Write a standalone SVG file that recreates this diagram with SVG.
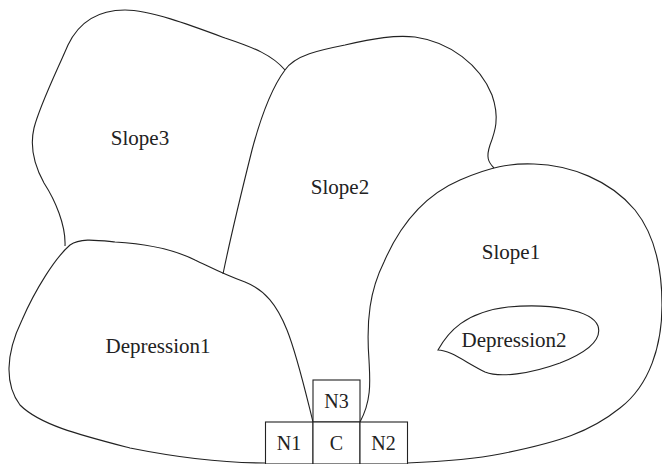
<svg xmlns="http://www.w3.org/2000/svg" width="662" height="464" viewBox="0 0 662 464">
<style>
.r{fill:none;stroke:#222;stroke-width:1.1}
.b{fill:#fff;stroke:#222;stroke-width:1.1}
.t{font-size:21px;fill:#222;text-anchor:middle}
.s{font-size:20px;fill:#222;text-anchor:middle}
</style>
<rect width="662" height="464" fill="#fff"/>
<g font-family="Liberation Serif, Times New Roman, Tinos, DejaVu Serif, serif">
<g id="slope3">
<path class="r" d="M65,246 C66,225 55,200 44,183 C34,165 30,145 34,128 C40,105 55,75 68,45 C80,20 100,10 125,10 C150,10 190,25 225,38 C255,48 272,55 285,70"/>
<text class="t" x="140" y="145">Slope3</text>
</g>
<g id="slope2">
<path class="r" d="M285,70 C270,90 260,120 252,150 C242,190 232,230 223,274"/>
<path class="r" d="M285,70 C295,55 320,50 345,45 C375,38 395,35 415,37 C450,42 480,65 492,95 C500,118 495,132 490,145 C486,157 488,162 494,168"/>
<text class="t" x="340" y="194">Slope2</text>
</g>
<g id="slope1">
<path class="r" d="M360,422 C372,400 370,380 369,360 C366,320 370,290 384,262 C400,225 425,195 460,180 C490,167 510,163 534,164 C570,165 610,180 635,210 C655,235 662,270 662,305 C662,345 650,385 620,408 C590,432 560,442 500,454 C470,460 430,462 407,463"/>
<text class="t" x="511" y="259">Slope1</text>
</g>
<g id="depression1">
<path class="r" d="M313,422 C305,390 297,355 287,330 C277,305 265,290 245,282 C225,275 212,268 195,260 C175,250 150,244 115,242 C95,240 80,238 70,245 C55,258 35,290 22,320 C5,355 5,385 20,405 C40,425 80,435 130,448 C180,458 230,463 265,463"/>
<text class="t" x="158" y="353">Depression1</text>
</g>
<g id="depression2">
<path class="r" d="M438,350 C448,332 465,312 508,307 C550,303 592,310 598,326 C603,342 580,355 560,363 C530,374 500,378 485,372 C465,362 450,350 438,350 Z"/>
<text class="t" x="514" y="347">Depression2</text>
</g>
<g id="N3">
<rect class="b" x="313" y="380" width="47" height="42"/>
<text class="s" x="336.5" y="408">N3</text>
</g>
<g id="N1">
<rect class="b" x="265.5" y="422" width="47.5" height="42"/>
<text class="s" x="289" y="450">N1</text>
</g>
<g id="C">
<rect class="b" x="313" y="422" width="47" height="42"/>
<text class="s" x="336.5" y="450">C</text>
</g>
<g id="N2">
<rect class="b" x="360" y="422" width="47.5" height="42"/>
<text class="s" x="383.5" y="450">N2</text>
</g>
</g>
</svg>
